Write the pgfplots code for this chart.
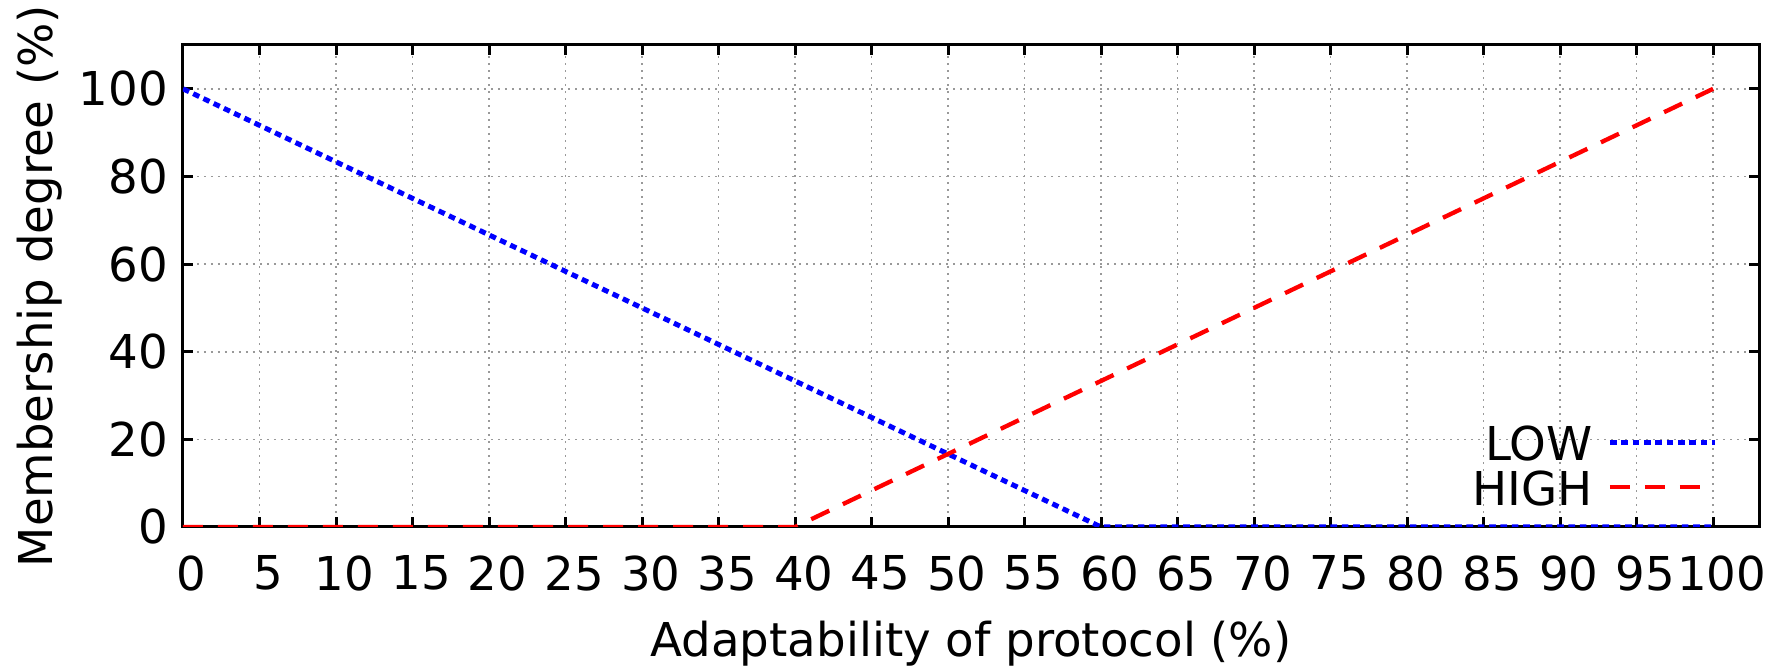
\documentclass[border=0pt]{standalone}
\usepackage{fontspec}
\setmainfont{DejaVu Sans}
\usepackage{pgfplots}
\pgfplotsset{compat=1.18}

\begin{document}
\begin{tikzpicture}
\begin{axis}[
	scale only axis,
	width=472.8pt, height=144.6pt,
	xmin=0, xmax=103, ymin=0, ymax=110,
	xtick={0,5,...,100}, ytick={0,20,...,100},
	tick align=inside,
	major tick length=3pt,
	tick style={black, line width=0.9pt},
	axis line style={black, line width=0.9pt},
	font=\fontsize{14}{16}\selectfont,
	/pgf/number format/assume math mode=true,
	xticklabel style={yshift=-5pt, xshift=2.6pt},
	yticklabel style={xshift=-1pt},
	grid=major,
	major grid style={gray!80, line width=0.5pt, dash pattern=on 0.5pt off 1.6pt},
	xlabel={Adaptability of protocol (\%)},
	ylabel={Membership degree (\%)},
	xlabel style={at={(axis description cs:0.5,-0.243)}, anchor=center},
	ylabel style={at={(axis description cs:-0.0907,0.5)}, anchor=center},
	legend style={draw=none, fill=none, at={(0.974,0.04)}, anchor=south east,
		inner sep=0pt, row sep=2pt, column sep=4pt,
		nodes={inner sep=0.5pt, text height=10.5pt, text depth=0pt},
		font=\fontsize{14}{16}\selectfont},
	legend cell align=right,
	legend plot pos=right,
	legend image code/.code={\draw[#1] (0cm,0.2pt) -- (31.5pt,0.2pt);},
]
\addplot[blue, line width=1.5pt, dash pattern=on 2pt off 1.4pt]
	coordinates {(0,100) (60,0) (100,0)};
\addlegendentry{LOW}
\addplot[red, line width=1.3pt, dash pattern=on 6pt off 4.5pt]
	coordinates {(0,0) (40,0) (100,100)};
\addlegendentry{HIGH}
\end{axis}
\pgfresetboundingbox
\path[use as bounding box] (-54.9pt,-42pt) rectangle (478.2pt,158.1pt);
\end{tikzpicture}
\end{document}
